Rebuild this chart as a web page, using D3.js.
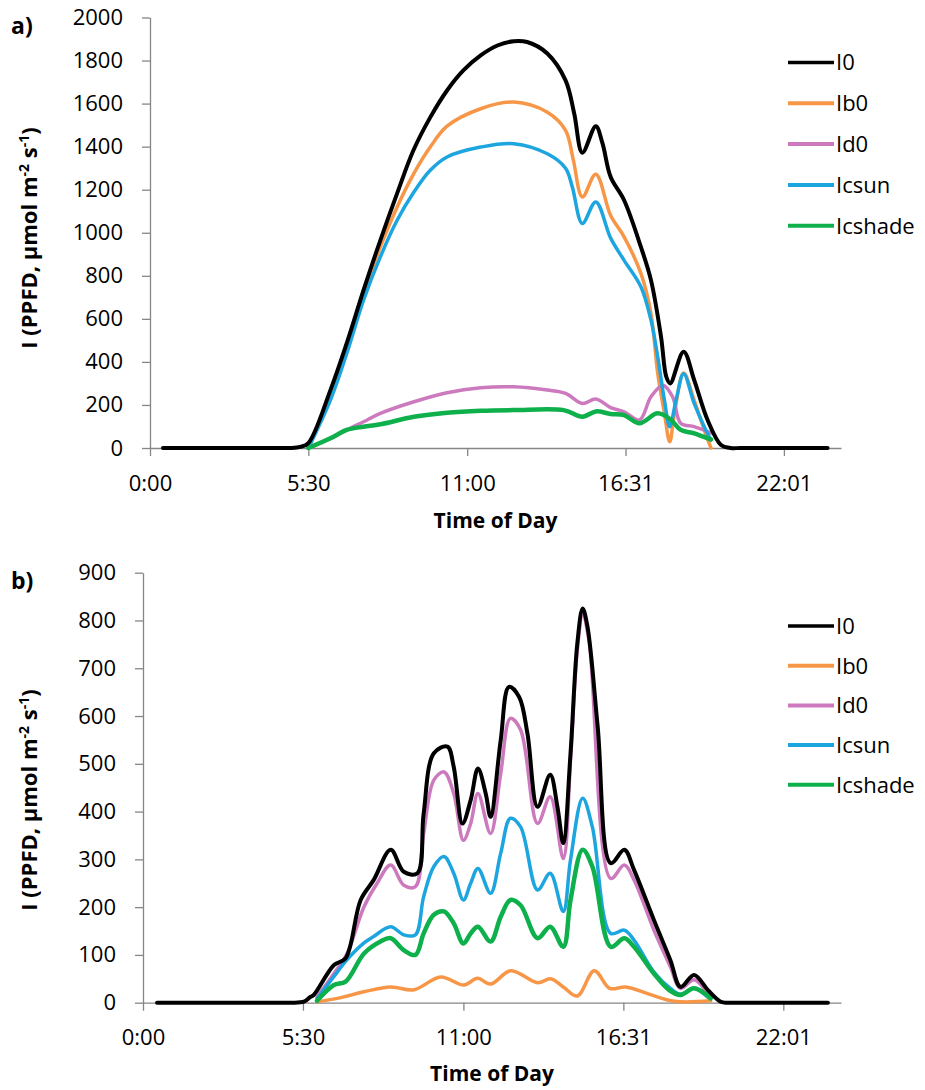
<!DOCTYPE html>
<html>
<head>
<meta charset="utf-8">
<script src="https://cdn.jsdelivr.net/npm/d3@7"></script>
<style>
  body { margin: 0; background: #fff; }
  svg { display: block; }
  text { font-family: "Open Sans", sans-serif; fill: #000; }
  .axis path, .axis line { stroke: #868686; stroke-width: 1.3; }
  .axis text { font-size: 22px; }
  .bold { font-weight: 700; }
</style>
</head>
<body>
<svg id="chart" width="925" height="1090"></svg>
<script>
// ---- data (time in minutes after midnight, value in PPFD) ----
var seriesNames = ["I0", "Ib0", "Id0", "Icsun", "Icshade"];
var seriesColors = ["#000000", "#F79646", "#CC79BE", "#1CA5DF", "#0DB04B"];
var seriesWidths = [4, 3.5, 3.5, 3.5, 4.5];

var xTicks = [0, 330, 661, 991, 1321];
var xTickLabels = ["0:00", "5:30", "11:00", "16:31", "22:01"];
var yTicksA = d3.range(0, 2001, 200);
var yTicksB = d3.range(0, 901, 100);

// panel a) clear day
var a_I0 = [[27,0],[100,0],[200,0],[270,0],[292,0],[313,5],[330,23],[376,269],[410,487],[445,733],[480,965],[515,1183],[549,1383],[584,1536],[619,1661],[653,1754],[689,1824],[724,1870],[758,1890],[786,1886],[828,1833],[866,1708],[884,1554],[901,1372],[929,1495],[943,1415],[960,1259],[988,1151],[1023,934],[1044,780],[1065,516],[1076,330],[1084,300],[1112,447],[1134,316],[1162,130],[1190,14],[1210,0],[1230,0],[1300,0],[1380,0],[1412,0]];
var a_Ib0 = [[330,0],[376,235],[410,460],[445,719],[480,934],[515,1120],[550,1276],[584,1398],[619,1495],[689,1576],[758,1607],[828,1560],[866,1476],[882,1340],[901,1166],[929,1272],[960,1080],[988,981],[1023,811],[1044,625],[1058,348],[1072,162],[1083,29],[1093,162],[1112,348],[1134,223],[1155,84],[1169,0]];
var a_Id0 = [[330,0],[376,45],[420,95],[445,122],[480,161],[550,215],[619,257],[689,280],[758,284],[828,269],[866,254],[901,207],[929,228],[960,188],[988,168],[1020,130],[1044,238],[1069,292],[1089,238],[1106,115],[1134,99],[1162,76],[1169,70]];
var a_Icsun = [[330,0],[376,223],[410,439],[445,687],[480,888],[515,1058],[550,1189],[584,1290],[619,1352],[689,1398],[758,1414],[828,1367],[866,1300],[880,1213],[901,1043],[929,1143],[960,975],[988,872],[1023,749],[1044,594],[1058,424],[1072,223],[1083,99],[1097,230],[1112,345],[1134,207],[1155,99],[1169,37]];
var a_Icshade = [[330,0],[376,45],[410,84],[445,99],[480,110],[550,145],[619,164],[689,173],[758,176],[862,176],[901,145],[929,170],[960,158],[988,153],[1020,115],[1058,161],[1086,130],[1106,84],[1134,68],[1162,45],[1169,40]];

// panel b) cloudy day
var b_I0 = [[29,0],[100,0],[200,0],[280,0],[304,0],[332,2],[345,12],[352,16],[394,79],[418,93],[449,215],[476,257],[511,320],[538,274],[566,271],[579,396],[600,522],[628,536],[641,494],[659,375],[676,424],[691,490],[707,438],[717,389],[738,550],[755,661],[776,640],[793,564],[814,410],[840,477],[855,410],[867,334],[882,522],[896,752],[907,825],[917,787],[938,578],[965,292],[993,320],[1013,278],[1054,173],[1088,89],[1109,33],[1137,58],[1165,27],[1192,2],[1206,0],[1230,0],[1300,0],[1380,0],[1413,0]];
var b_Ib0 = [[359,2],[401,9],[456,23],[511,33],[559,27],[614,54],[662,37],[690,51],[717,39],[759,67],[814,42],[841,50],[867,33],[896,14],[931,67],[963,30],[996,33],[1044,18],[1096,3],[1171,4]];
var b_Id0 = [[359,12],[394,61],[421,103],[456,201],[483,250],[511,288],[538,246],[562,243],[579,354],[600,466],[621,483],[641,438],[661,340],[676,375],[691,438],[717,354],[738,480],[758,595],[779,571],[814,375],[840,431],[867,302],[882,508],[896,738],[907,811],[920,759],[965,260],[993,288],[1013,257],[1054,152],[1088,75],[1109,30],[1137,48],[1165,20],[1171,12]];
var b_Icsun = [[359,8],[394,55],[421,90],[456,125],[475,138],[511,159],[538,142],[562,142],[579,222],[600,285],[621,306],[641,271],[661,215],[676,250],[691,281],[717,229],[738,313],[758,386],[779,368],[814,236],[840,271],[867,191],[882,299],[907,428],[927,368],[965,145],[993,152],[1013,131],[1054,64],[1088,30],[1109,18],[1137,31],[1165,12],[1171,9]];
var b_Icshade = [[359,4],[394,37],[418,44],[456,103],[490,128],[511,135],[538,110],[562,100],[579,145],[600,184],[621,191],[641,166],[661,124],[676,145],[691,159],[717,128],[738,180],[758,215],[779,204],[814,135],[840,159],[867,117],[882,215],[907,320],[927,285],[965,117],[993,135],[1013,117],[1054,61],[1085,27],[1109,16],[1137,30],[1171,9]];

var svg = d3.select("#chart");

function drawPanel(cfg) {
    var x = d3.scaleLinear().domain([0, 1440]).range([cfg.left, 841]);
    var y = d3.scaleLinear().domain([0, cfg.ymax]).range([cfg.bottom, cfg.top]);

    var g = svg.append("g");

    g.append("g")
        .attr("class", "axis")
        .attr("transform", "translate(0," + cfg.bottom + ")")
        .call(d3.axisBottom(x).tickValues(xTicks)
            .tickFormat(function (d, i) { return xTickLabels[i]; })
            .tickSize(8).tickSizeOuter(0).tickPadding(19));

    g.append("g")
        .attr("class", "axis")
        .attr("transform", "translate(" + cfg.left + ",0)")
        .call(d3.axisLeft(y).tickValues(cfg.yTicks).tickFormat(d3.format("d"))
            .tickSize(8).tickSizeOuter(0).tickPadding(19));

    g.selectAll(".axis .tick text").attr("font-size", 22);

    var line = d3.line()
        .x(function (d) { return x(d[0]); })
        .y(function (d) { return y(d[1]); })
        .curve(d3.curveCatmullRom.alpha(0.5));

    // colored series first, black I0 on top
    [1, 2, 3, 4, 0].forEach(function (i) {
        g.append("path")
            .datum(cfg.series[i])
            .attr("fill", "none")
            .attr("stroke", seriesColors[i])
            .attr("stroke-width", seriesWidths[i])
            .attr("stroke-linejoin", "round")
            .attr("stroke-linecap", "round")
            .attr("d", line);
    });

    // panel letter
    g.append("text").attr("class", "bold")
        .attr("x", 11).attr("y", cfg.top + 16)
        .attr("font-size", 23)
        .text(cfg.letter);

    // y label
    var yl = g.append("text").attr("class", "bold")
        .attr("font-size", 22)
        .attr("text-anchor", "middle")
        .attr("transform", "translate(37," + cfg.ylabelY + ") rotate(-90)");
    yl.append("tspan").text("I (PPFD, µmol m");
    yl.append("tspan").attr("dy", -8).attr("font-size", 14).text("-2");
    yl.append("tspan").attr("dy", 8).text(" s");
    yl.append("tspan").attr("dy", -8).attr("font-size", 14).text("-1");
    yl.append("tspan").attr("dy", 8).text(")");

    // x label
    g.append("text").attr("class", "bold")
        .attr("font-size", 21)
        .attr("text-anchor", "middle")
        .attr("x", (cfg.left + 841) / 2)
        .attr("y", cfg.bottom + cfg.xlabelDy)
        .text("Time of Day");

    // legend
    var leg = g.selectAll(".leg")
        .data(seriesNames)
        .enter().append("g")
        .attr("transform", function (d, i) { return "translate(788," + (cfg.legTop + i * cfg.legStep) + ")"; });
    leg.append("line")
        .attr("x1", 0).attr("x2", 46)
        .attr("stroke", function (d, i) { return seriesColors[i]; })
        .attr("stroke-width", function (d, i) { return i === 0 ? 3.5 : 4; });
    leg.append("text")
        .attr("x", 48).attr("dy", "0.36em")
        .attr("font-size", 22)
        .text(function (d) { return d; });
}

drawPanel({
    letter: "a)", left: 150, top: 17.5, bottom: 448, ymax: 2000, yTicks: yTicksA,
    ylabelY: 238, xlabelDy: 80, legTop: 62.5, legStep: 40.8,
    series: [a_I0, a_Ib0, a_Id0, a_Icsun, a_Icshade]
});
drawPanel({
    letter: "b)", left: 143, top: 572.7, bottom: 1002.7, ymax: 900, yTicks: yTicksB,
    ylabelY: 800, xlabelDy: 78, legTop: 626, legStep: 39.7,
    series: [b_I0, b_Ib0, b_Id0, b_Icsun, b_Icshade]
});
</script>
</body>
</html>
